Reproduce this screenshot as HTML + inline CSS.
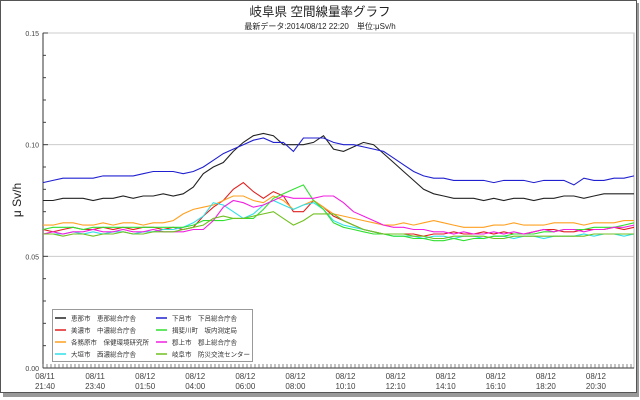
<!DOCTYPE html>
<html><head><meta charset="utf-8"><style>
html,body{margin:0;padding:0;background:#fff;}
svg{display:block;font-family:"Liberation Sans","Noto Sans CJK JP",sans-serif;}
</style></head><body>
<svg id="chart" width="640" height="400" viewBox="0 0 640 400">
<rect x="3" y="3" width="636" height="394" fill="#999"/>
<rect x="0.5" y="0.5" width="636" height="392" fill="#fff" stroke="#555" stroke-width="1"/>
<text x="320" y="16" font-size="12.5" text-anchor="middle" fill="#222">岐阜県 空間線量率グラフ</text>
<text x="320" y="29" font-size="8" text-anchor="middle" fill="#222">最新データ:2014/08/12 22:20　単位:μSv/h</text>
<text transform="translate(21,200) rotate(-90)" font-size="12" text-anchor="middle" fill="#222">μ Sv/h</text>
<g id="axes"></g>
<g id="series"></g>
<g id="legend"></g>
</svg>
<script>
const NS='http://www.w3.org/2000/svg';
const tickLabels=['08/11|21:40','08/11|23:40','08/12|01:50','08/12|04:00','08/12|06:00','08/12|08:00','08/12|10:10','08/12|12:10','08/12|14:10','08/12|16:10','08/12|18:20','08/12|20:30'];
const yTicks=[0,0.05,0.10,0.15];
const yTickLabels=['0.00','0.05','0.10','0.15'];
const seriesNames=['恵那市　恵那総合庁舎','美濃市　中濃総合庁舎','各務原市　保健環境研究所','大垣市　西濃総合庁舎','下呂市　下呂総合庁舎','揖斐川町　坂内測定局','郡上市　郡上総合庁舎','岐阜市　防災交流センター'];
const seriesColors=['#222','#e02020','#ffa020','#30e0e8','#2020d0','#30e030','#f020e0','#70c020'];
const ena=[.075,.075,.076,.076,.076,.075,.076,.076,.077,.076,.077,.077,.078,.077,.078,.081,.087,.090,.092,.097,.101,.104,.105,.104,.100,.100,.100,.101,.104,.098,.097,.099,.101,.100,.096,.092,.088,.084,.080,.078,.077,.076,.076,.076,.075,.076,.075,.076,.076,.075,.076,.076,.077,.077,.076,.077,.078,.078,.078,.078];
const mino=[.062,.061,.062,.063,.062,.062,.063,.062,.063,.062,.063,.063,.062,.063,.062,.063,.068,.072,.075,.080,.083,.079,.076,.079,.077,.070,.070,.075,.072,.068,.066,.064,.062,.061,.060,.060,.060,.060,.059,.060,.060,.061,.060,.060,.061,.060,.061,.060,.060,.061,.062,.062,.061,.061,.062,.062,.062,.063,.062,.063];
const kakamigahara=[.064,.064,.065,.065,.064,.064,.065,.064,.065,.065,.064,.065,.065,.066,.069,.071,.072,.073,.075,.077,.077,.075,.074,.077,.075,.071,.073,.075,.072,.069,.068,.067,.066,.065,.064,.064,.065,.064,.065,.066,.065,.064,.063,.063,.063,.064,.064,.065,.064,.064,.064,.065,.065,.065,.064,.065,.065,.065,.066,.066];
const ogaki=[.060,.060,.060,.061,.060,.061,.060,.061,.061,.060,.061,.061,.062,.062,.063,.065,.068,.074,.073,.070,.067,.069,.073,.075,.073,.071,.073,.074,.071,.066,.064,.063,.062,.061,.060,.059,.059,.059,.058,.059,.059,.058,.059,.059,.058,.059,.059,.058,.059,.059,.058,.059,.059,.059,.060,.059,.060,.060,.059,.060];
const gero=[.083,.084,.085,.085,.085,.085,.086,.086,.086,.086,.087,.088,.088,.088,.087,.088,.090,.093,.096,.098,.100,.102,.103,.101,.101,.097,.103,.103,.103,.101,.100,.100,.099,.098,.097,.094,.091,.088,.086,.085,.085,.084,.084,.084,.084,.083,.084,.084,.084,.083,.084,.084,.084,.082,.085,.084,.084,.085,.085,.086];
const ibigawa=[.062,.063,.063,.063,.062,.063,.063,.063,.063,.063,.063,.063,.063,.063,.063,.064,.066,.066,.066,.067,.067,.067,.071,.076,.078,.080,.082,.075,.071,.065,.063,.062,.061,.060,.060,.059,.059,.058,.058,.057,.057,.058,.057,.058,.058,.059,.059,.060,.060,.060,.061,.061,.062,.062,.062,.063,.063,.063,.064,.065];
const gujo=[.060,.061,.060,.061,.061,.062,.061,.061,.062,.061,.061,.062,.061,.061,.061,.062,.062,.066,.072,.075,.074,.072,.073,.075,.077,.076,.076,.076,.077,.077,.074,.070,.068,.066,.064,.063,.063,.062,.062,.061,.061,.060,.061,.060,.060,.061,.060,.061,.060,.061,.062,.061,.062,.062,.061,.062,.062,.063,.063,.064];
const gifu=[.060,.060,.059,.060,.060,.059,.060,.060,.061,.060,.060,.061,.061,.061,.062,.063,.064,.067,.068,.067,.067,.068,.069,.070,.067,.064,.066,.069,.069,.069,.066,.064,.062,.061,.060,.060,.060,.059,.059,.058,.058,.059,.059,.059,.059,.058,.058,.059,.059,.059,.059,.059,.059,.059,.059,.060,.060,.060,.060,.060];
const seriesData=[ena,mino,kakamigahara,ogaki,gero,ibigawa,gujo,gifu];

const PL=43,PR=634,PT=33,PB=368,YMAX=0.15;
const N=ena.length;
const xs=i=>PL+i*(PR-PL)/(N-1);
const ys=v=>PB-v/YMAX*(PB-PT);
function mk(tag,attrs,parent){const e=document.createElementNS(NS,tag);for(const k in attrs)e.setAttribute(k,attrs[k]);parent.appendChild(e);return e;}
const axes=document.getElementById('axes');
const bg=mk('rect',{x:PL,y:PT,width:PR-PL,height:PB-PT,fill:'#fff',stroke:'#bbb'},axes);


yTicks.forEach((v,k)=>{
  if(v>0){const g=mk('line',{x1:PL,x2:PR,y1:ys(v),y2:ys(v),stroke:'#ccc','stroke-width':1},axes);
  
  }
  const t=mk('text',{x:PL-4,y:ys(v)+3,'font-size':7,'text-anchor':'end',fill:'#444'},axes);
  t.textContent=yTickLabels[k];
  
  
});
for(let k=0;k<=15;k++){const v=k*0.01;
  const tk=mk('line',{x1:PL,x2:PL+(k%5==0?5:3),y1:ys(v),y2:ys(v),stroke:'#444'},axes);
  
  }
const yl=mk('line',{x1:PL,x2:PL,y1:PT,y2:PB,stroke:'#333'},axes);


const xl=mk('line',{x1:PL,x2:PR,y1:PB,y2:PB,stroke:'#333'},axes);


for(let x=PL;x<=PR;x+=4){const tk=mk('line',{x1:x,x2:x,y1:PB,y2:PB-4,stroke:'#555','stroke-width':0.7},axes);
  
  }
tickLabels.forEach((lab,k)=>{
  const idx=k*5;const p=lab.split('|');
  const t=mk('text',{x:xs(idx)+2,y:PB+11,'font-size':8,'text-anchor':'middle',fill:'#444'},axes);
  
  
  const a=mk('tspan',{x:xs(idx)+2,dy:0},t);a.textContent=p[0];
  const b=mk('tspan',{x:xs(idx)+2,dy:10},t);b.textContent=p[1];
});
const sg=document.getElementById('series');
seriesData.forEach((arr,s)=>{
  const d=arr.map((v,i)=>(i?'L':'M')+xs(i).toFixed(1)+' '+ys(v).toFixed(1)).join(' ');
  const p=mk('path',{d:d,fill:'none',stroke:seriesColors[s],'stroke-width':1.1},sg);
  
  
});
const lg=document.getElementById('legend');
const box=mk('rect',{x:52.5,y:309.5,width:200,height:52,fill:'#fff',stroke:'#999'},lg);


seriesNames.forEach((nm,s)=>{
  const col=Math.floor(s/4),row=s%4;
  const lx=col?156:55,ly=318+row*12;
  const l=mk('line',{x1:lx,x2:lx+11,y1:ly,y2:ly,stroke:seriesColors[s],'stroke-width':1.5},lg);
  
  
  const t=mk('text',{x:lx+16,y:ly+2.5,'font-size':6.5,fill:'#333'},lg);
  t.textContent=nm;
  
  
});
</script>
</body></html>
